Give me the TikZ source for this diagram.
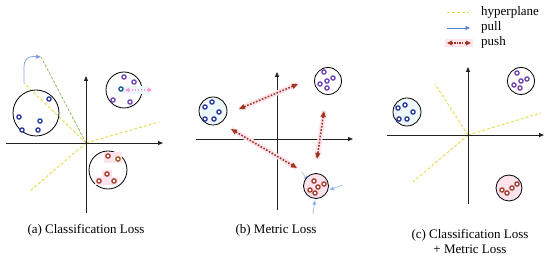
\documentclass[tikz,border=0pt]{standalone}
\usepackage{fontspec}
\setmainfont{Liberation Serif}
\usetikzlibrary{arrows.meta}
\definecolor{axisc}{HTML}{222222}
\definecolor{hyp}{HTML}{E6DC5A}
\definecolor{greend}{HTML}{8FBF5A}
\definecolor{dblue}{HTML}{23349A}
\definecolor{dpurple}{HTML}{6E3FB0}
\definecolor{dred}{HTML}{A03A26}
\definecolor{pushc}{HTML}{A0361E}
\definecolor{pullc}{HTML}{5B7FD6}
\definecolor{pulll}{HTML}{A9C4EE}
\definecolor{pinkc}{HTML}{FF9AE6}
\definecolor{pinkbg}{HTML}{FCE3EE}
\definecolor{cyanbg}{HTML}{EEF8FA}
\tikzset{
  axis/.style={draw=axisc, line width=0.8pt, -{Triangle[length=5pt,width=4pt]}},
  cluster/.style={draw=black, line width=0.8pt},
  hyper/.style={draw=hyp, dashed, line width=1pt, dash pattern=on 3pt off 2pt},
  ring/.style={draw=#1, line width=1.3pt, fill=white},
  pushglow/.style={draw=pinkbg, line width=5pt},
  push/.style={draw=pushc, line width=1.6pt, dash pattern=on 1.6pt off 1.6pt,
     {Triangle[length=6pt,width=5pt]}-{Triangle[length=6pt,width=5pt]}},
  pull/.style={draw=pulll, line width=0.8pt, -{Triangle[length=5pt,width=4pt,fill=pullc]}},
  caption/.style={font=\fontsize{13}{15}\selectfont, align=center},
}
\newcommand{\ringset}[2]{\foreach \p in {#2} {\draw[ring=#1] \p circle (2.1pt);}}
\begin{document}
\begin{tikzpicture}[x=1pt,y=-1pt]
\useasboundingbox (0,0) rectangle (550,256);
% ================= Panel (a) =================
\coordinate (oa) at (86,143);
\coordinate (ha1) at (159,122);
\coordinate (ha2) at (30,191);
\coordinate (ha3) at (24,83);
\coordinate (ga) at (41,57);
\draw[hyper] (oa) -- (ha1);
\draw[hyper] (oa) -- (ha2);
\draw[hyper] (oa) -- (ha3);
\draw[draw=greend, dashed, line width=0.8pt, dash pattern=on 3pt off 1.5pt] (oa) -- (ga);
\draw[pull, draw=pullc!70] (ha3) -- (24,68) .. controls (24,58) and (28,56) .. (ga);
\draw[axis] (6,143) -- (163,143);
\draw[axis] (86,213) -- (86,76);
\node[cluster, circle, minimum size=46pt, inner sep=0pt] (ca1) at (36,113) {};
\node[cluster, circle, minimum size=36pt, inner sep=0pt] (ca2) at (124,90) {};
\node[cluster, circle, minimum size=38pt, inner sep=0pt] (ca3) at (108,170) {};
\fill[pinkbg] (104,152) rectangle (122,163);
\fill[pinkbg] (102,170) rectangle (112,178);
\fill[pinkbg] (95,177) rectangle (118,185);
\fill[cyanbg] (122,86) rectangle (150,94);
\ringset{dblue}{(49,99),(19,117),(40,121),(22,130),(38,130)}
\ringset{dpurple}{(124,77),(134,82),(113,100),(130,102)}
\draw[ring=dblue!60!teal] (121,89) circle (2.1pt);
\ringset{dred}{(108,156),(107,174),(99,181),(114,181)}
\draw[ring=dred!60!olive] (118,159) circle (2.1pt);
\coordinate (pa1) at (152,90);
\coordinate (pa2) at (125,90);
\draw[draw=pinkc, line width=1.2pt, dash pattern=on 1.5pt off 1.5pt,
  {Triangle[length=4pt,width=4pt]}-{Triangle[length=4pt,width=4pt]}] (pa2) -- (pa1);
\node[caption] (la) at (86,230) {(a) Classification Loss};
% ================= Panel (b) =================
\draw[axis] (196,139) -- (353,139);
\draw[axis] (277,210) -- (277,72);
\node[cluster, circle, minimum size=28pt, inner sep=0pt, fill=cyanbg] (cb1) at (213,111) {};
\node[cluster, circle, minimum size=27pt, inner sep=0pt] (cb2) at (328,81) {};
\coordinate (pl1) at (302,172);
\coordinate (pl2) at (343,185);
\coordinate (pl3) at (313,214);
\draw[pull] (pl1) -- (308,181);
\draw[pull] (pl2) -- (329,190);
\draw[pull] (pl3) -- (315,200);
\node[cluster, circle, minimum size=25pt, inner sep=0pt, fill=pinkbg] (cb3) at (316,186) {};
\ringset{dblue}{(205,107),(212,102),(219,112),(205,119),(214,119)}
\ringset{dpurple}{(324,72),(333,78),(327,81),(320,84),(327,88)}
\ringset{dred}{(314,181),(324,184),(310,190),(318,187),(315,193)}
\coordinate (p1a) at (239,109); \coordinate (p1b) at (298,84);
\coordinate (p2a) at (231,129); \coordinate (p2b) at (297,168);
\coordinate (p3a) at (324,111); \coordinate (p3b) at (317,159);
\foreach \a/\b in {p1a/p1b,p2a/p2b,p3a/p3b} {\draw[pushglow] (\a) -- (\b);}
\foreach \a/\b in {p1a/p1b,p2a/p2b,p3a/p3b} {\draw[push] (\a) -- (\b);}
\node[caption] (lb) at (276,230) {(b) Metric Loss};
% ================= Panel (c) =================
\coordinate (oc) at (468,135);
\coordinate (hc1) at (541,113);
\coordinate (hc2) at (413,182);
\coordinate (hc3) at (435,84);
\draw[hyper] (oc) -- (hc1);
\draw[hyper] (oc) -- (hc2);
\draw[hyper] (oc) -- (hc3);
\draw[axis] (387,135) -- (544,135);
\draw[axis] (468,204) -- (468,67);
\node[cluster, circle, minimum size=28pt, inner sep=0pt, fill=cyanbg] (cc1) at (407,112) {};
\node[cluster, circle, minimum size=27pt, inner sep=0pt] (cc2) at (521,81) {};
\node[cluster, circle, minimum size=26pt, inner sep=0pt, fill=pinkbg] (cc3) at (509,188) {};
\ringset{dblue}{(398,108),(405,105),(413,112),(399,119),(407,119)}
\ringset{dpurple}{(517,73),(527,79),(521,81),(514,85),(520,88)}
\ringset{dred}{(517,184),(512,188),(507,193),(502,190)}
\node[caption] (lc) at (470,241.5) {(c) Classification Loss\\+ Metric Loss};
% ================= Legend =================
\coordinate (l1a) at (447,13); \coordinate (l1b) at (469,13);
\coordinate (l2a) at (447,28); \coordinate (l2b) at (470,28);
\coordinate (l3a) at (447,43); \coordinate (l3b) at (471,43);
\draw[hyper] (l1a) -- (l1b);
\draw[draw=pullc, line width=0.7pt, -{Triangle[length=4.5pt,width=4pt]}] (l2a) -- (l2b);
\fill[pinkbg] (445,39) rectangle (473,47);
\draw[draw=pushc, line width=1.3pt, dash pattern=on 1.3pt off 1.3pt,
  {Triangle[length=5pt,width=4.5pt]}-{Triangle[length=5pt,width=4.5pt]}] (l3a) -- (l3b);
\node[caption, anchor=west, inner sep=0pt] (t1) at (481,12) {hyperplane};
\node[caption, anchor=west, inner sep=0pt] (t2) at (481,27) {pull};
\node[caption, anchor=west, inner sep=0pt] (t3) at (481,42) {push};
\end{tikzpicture}
\end{document}
